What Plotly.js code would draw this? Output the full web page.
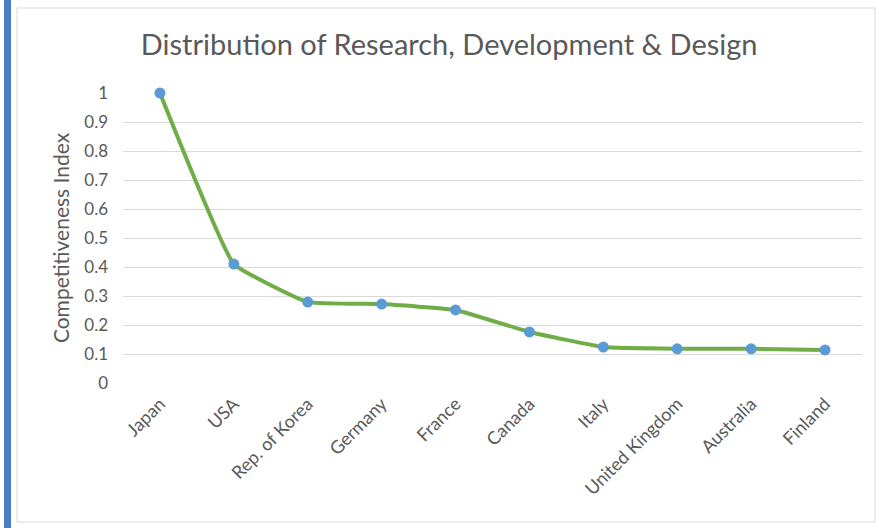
<!DOCTYPE html>
<html>
<head>
<meta charset="utf-8">
<script src="https://cdn.plot.ly/plotly-3.0.1.min.js"></script>
<style>
html,body{margin:0;padding:0;background:#fff;}
#chart{width:879px;height:528px;}
</style>
</head>
<body>
<div id="chart"></div>
<script>
const countries = ["Japan","USA","Rep. of Korea","Germany","France","Canada","Italy","United Kingdom","Australia","Finland"];
const competitiveness = [1.0, 0.41, 0.279, 0.272, 0.252, 0.176, 0.124, 0.118, 0.118, 0.114];
const yTicks = [0,0.1,0.2,0.3,0.4,0.5,0.6,0.7,0.8,0.9,1];
const yTickLabels = ["0","0.1","0.2","0.3","0.4","0.5","0.6","0.7","0.8","0.9","1"];

const W = 879, H = 528;
const L = 123, R = 17, T = 93, B = 145;
const pw = W - L - R, ph = H - T - B;
const px = v => (v - L) / pw;
const py = v => (H - B - v) / ph;

const font = "Lato, 'Noto Sans', sans-serif";

const trace = {
  x: countries,
  y: competitiveness,
  type: 'scatter',
  mode: 'lines+markers',
  line: {color: '#70AD47', width: 4, shape: 'spline', smoothing: 0.3},
  marker: {color: '#5B9BD5', size: 11},
  cliponaxis: false,
  hoverinfo: 'x+y'
};

const layout = {
  width: W, height: H,
  margin: {l: L, r: R, t: T, b: B},
  paper_bgcolor: '#ffffff',
  plot_bgcolor: '#ffffff',
  showlegend: false,
  font: {family: font, color: '#595959', size: 17},
  title: {
    text: 'Distribution of Research, Development & Design',
    font: {family: font, size: 29, color: '#595959'},
    x: 0.511, xanchor: 'center', y: 0.915, yanchor: 'middle'
  },
  xaxis: {
    type: 'category',
    range: [-0.5, 9.5],
    showgrid: false, zeroline: false, showline: false,
    ticks: '', tickangle: -45,
    ticklabelstandoff: 6,
    tickfont: {family: font, size: 18, color: '#595959'},
    fixedrange: true
  },
  yaxis: {
    range: [0, 1],
    tickvals: yTicks, ticktext: yTickLabels,
    showgrid: true, gridcolor: '#d9d9d9', gridwidth: 1,
    zeroline: false, showline: false, ticks: '',
    ticklabelstandoff: 14,
    tickfont: {family: font, size: 17, color: '#595959'},
    title: {text: 'Competitiveness Index', font: {family: font, size: 21, color: '#595959'}, standoff: 8},
    fixedrange: true
  },
  shapes: [
    {type: 'rect', xref: 'paper', yref: 'paper', x0: px(17), x1: px(875), y0: py(522), y1: py(8),
     line: {color: '#d9d9d9', width: 1}, fillcolor: 'rgba(0,0,0,0)', layer: 'below'},
    {type: 'rect', xref: 'paper', yref: 'paper', x0: px(4), x1: px(11), y0: py(528), y1: py(0),
     line: {width: 0}, fillcolor: '#4A7EC4', layer: 'above'}
  ]
};

Plotly.newPlot('chart', [trace], layout, {displayModeBar: false, staticPlot: true});
</script>
</body>
</html>
